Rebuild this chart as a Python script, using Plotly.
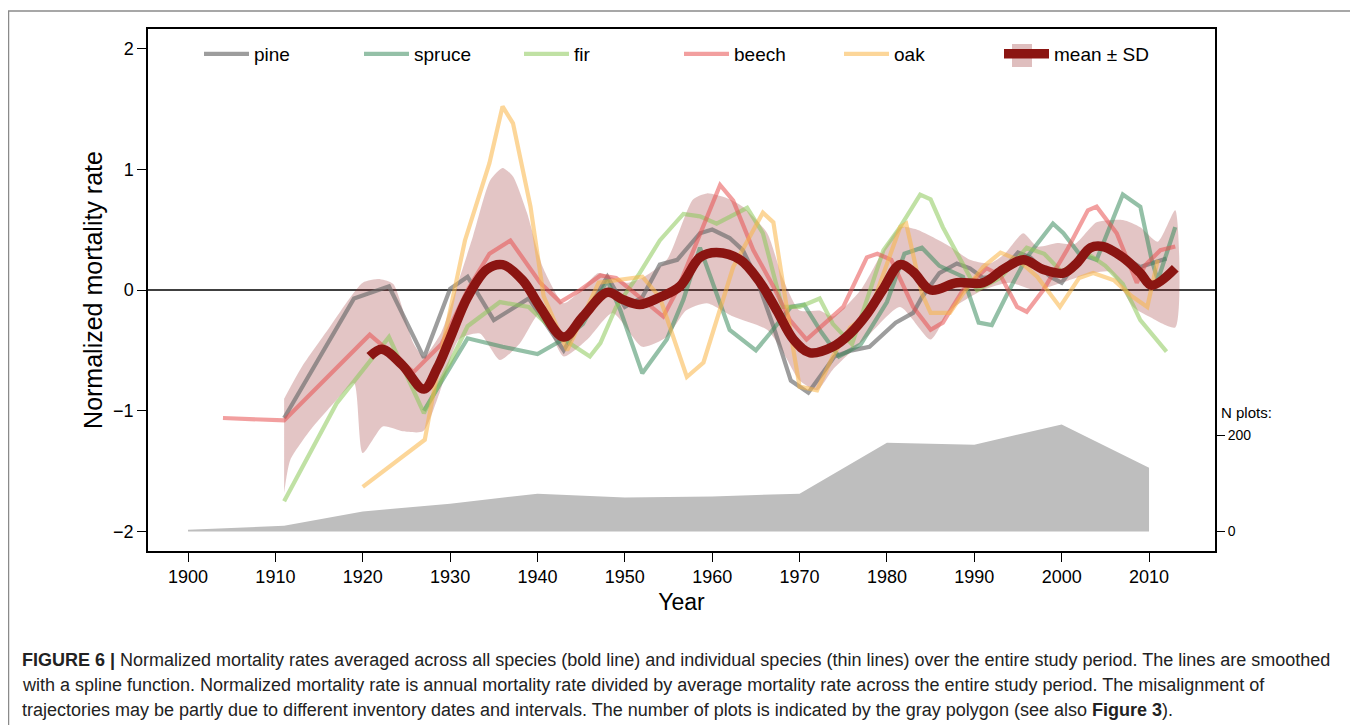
import plotly.graph_objects as go

# ---------------- data ----------------
PINE_X = [1911, 1919, 1923, 1927, 1930, 1932, 1935, 1939, 1943, 1948, 1950, 1952, 1954, 1956, 1958.6, 1960, 1962,
          1963.5, 1965, 1967, 1969, 1971, 1974, 1976, 1978, 1981, 1983, 1984, 1986, 1988, 1989.5, 1991, 1992.6,
          1995, 1996.4, 1998.7, 2000, 2002.5, 2004.7, 2007.5, 2009, 2012]
PINE_Y = [-1.06, -0.07, 0.03, -0.56, 0.01, 0.11, -0.25, -0.07, -0.50, 0.11, -0.14, -0.06, 0.21, 0.25, 0.47, 0.50, 0.43,
          0.33, 0.11, -0.30, -0.75, -0.85, -0.55, -0.50, -0.47, -0.27, -0.19, -0.06, 0.14, 0.22, 0.18, 0.10, 0.11,
          0.31, 0.27, 0.11, 0.06, 0.31, 0.37, 0.25, 0.19, 0.26]

SPRUCE_X = [1927, 1932, 1936, 1940, 1943.4, 1945.2, 1948, 1949.5, 1952, 1954.8, 1956.7, 1958.6, 1962, 1965, 1966.6,
            1969, 1970.5, 1972.5, 1974.5, 1977, 1980, 1982, 1984, 1986, 1988.7, 1990.5, 1992, 1994, 1996, 1999,
            2000.2, 2002, 2004, 2007, 2009, 2010.3, 2011, 2013]
SPRUCE_Y = [-1.0, -0.4, -0.47, -0.53, -0.39, -0.28, 0.08, -0.17, -0.69, -0.41, -0.08, 0.35, -0.33, -0.50, -0.36,
            -0.14, -0.12, -0.35, -0.55, -0.45, -0.1, 0.3, 0.35, 0.2, 0.11, -0.27, -0.29, 0.0, 0.27, 0.55,
            0.47, 0.3, 0.25, 0.79, 0.69, 0.25, 0.08, 0.52]

FIR_X = [1911, 1917, 1923, 1927, 1930, 1932, 1935.7, 1939, 1942.6, 1946, 1947.2, 1949, 1951.7, 1954, 1956.7, 1958.6,
         1960.5, 1964, 1965.8, 1968, 1970, 1972.3, 1973.8, 1976, 1979.6, 1981.5, 1983.8, 1985, 1986.4, 1988.4,
         1990.3, 1993, 1996, 1998, 2000, 2003, 2005, 2007, 2009, 2012]
FIR_Y = [-1.75, -0.94, -0.39, -1.02, -0.6, -0.3, -0.1, -0.14, -0.39, -0.55, -0.44, -0.14, 0.14, 0.41, 0.63, 0.61,
         0.55, 0.68, 0.47, -0.14, -0.14, -0.07, -0.28, -0.45, 0.33, 0.52, 0.79, 0.75, 0.52, 0.25,
         0.0, 0.1, 0.35, 0.3, 0.15, 0.3, 0.2, 0.05, -0.25, -0.51]

BEECH_X = [1904, 1911, 1920.8, 1925.8, 1929, 1932, 1934.5, 1936.9, 1940.3, 1942.6, 1944.9, 1947.2, 1949, 1951.7,
           1954.4, 1956, 1958.6, 1960.9, 1962.4, 1964.7, 1967, 1968.9, 1970.8, 1972.3, 1975, 1977.7, 1978.9,
           1980.5, 1983, 1985, 1986.4, 1988.7, 1991.4, 1993, 1994.9, 1996, 1997.9, 2000.6, 2003, 2004, 2006.3,
           2008.6, 2009.5, 2011.3, 2013]
BEECH_Y = [-1.06, -1.08, -0.37, -0.68, -0.45, 0.0, 0.3, 0.41, 0.06, -0.1, 0.0, 0.12, 0.1, -0.06,
           -0.22, 0.0, 0.47, 0.87, 0.74, 0.33, 0.03, -0.25, -0.41, -0.31, -0.14, 0.27, 0.3,
           0.25, -0.14, -0.33, -0.27, 0.0, 0.18, 0.12, -0.14, -0.18, 0.0, 0.33, 0.66, 0.69, 0.47,
           0.06, 0.2, 0.33, 0.36]

OAK_X = [1920, 1927.1, 1928.8, 1931.7, 1934.5, 1936, 1937.2, 1939.2, 1940.7, 1943.4, 1947, 1952, 1954, 1957.1,
         1959, 1962.4, 1965.8, 1967, 1969.3, 1970, 1972, 1973.8, 1975.8, 1978, 1981.5, 1982.2, 1984, 1985,
         1987.2, 1988.7, 1991, 1993, 1995, 1997.2, 1999.8, 2002, 2003.6, 2006, 2008, 2009.8, 2011]
OAK_Y = [-1.63, -1.24, -0.58, 0.41, 1.05, 1.52, 1.38, 0.69, -0.05, -0.5, 0.06, 0.11, -0.06, -0.72,
         -0.6, 0.19, 0.64, 0.56, -0.5, -0.8, -0.83, -0.55, -0.31, -0.19, 0.52, 0.55, -0.03, -0.19,
         -0.19, -0.03, 0.19, 0.31, 0.25, 0.11, -0.14, 0.1, 0.14, 0.08, -0.05, -0.14, 0.25]

MEAN_X = [1920.8, 1922.2, 1924.5, 1927, 1928.5, 1930, 1932, 1934.2, 1936, 1938.3, 1940.3, 1943, 1945.2, 1948,
          1949.8, 1951.7, 1954, 1956.3, 1958.6, 1960.5, 1963.2, 1965.5, 1967.4, 1969.3, 1971.2, 1973.8, 1975.8,
          1977.7, 1979.5, 1981.5, 1983, 1985, 1988, 1991, 1993.3, 1995.6, 1997.9, 2000.2, 2001.7, 2003.3,
          2004.7, 2007, 2009, 2010.3, 2013]
MEAN_Y = [-0.55, -0.49, -0.62, -0.82, -0.65, -0.4, -0.06, 0.17, 0.21, 0.08, -0.14, -0.39, -0.22, -0.02,
          -0.08, -0.12, -0.06, 0.03, 0.27, 0.31, 0.25, 0.06, -0.17, -0.41, -0.52, -0.47, -0.36,
          -0.2, 0.0, 0.21, 0.15, 0.0, 0.06, 0.06, 0.17, 0.25, 0.17, 0.14, 0.22, 0.35,
          0.36, 0.27, 0.14, 0.04, 0.18]

SD_UP_X = [1911, 1913, 1916, 1920, 1922, 1923.5, 1925.8, 1927, 1929, 1931, 1932.6, 1934.6, 1936, 1937.2, 1938.8,
           1940.6, 1943, 1945, 1947, 1950.2, 1952, 1954.8, 1957.8, 1959.4, 1961.7, 1963.5, 1966.3, 1968, 1970,
           1972.3, 1973.8, 1977, 1979.6, 1981.5, 1983.4, 1987.2, 1989.5, 1991.8, 1993.5, 1995.6, 1997.2, 1999.5,
           2001.5, 2004, 2007, 2009, 2011, 2013]
SD_UP = [-0.9, -0.64, -0.33, 0.06, 0.09, 0.05, -0.44, -0.55, -0.35, 0.08, 0.44, 0.91, 1.01, 0.94, 0.64,
         0.19, -0.11, 0.0, 0.14, 0.06, 0.1, 0.25, 0.75, 0.8, 0.76, 0.69, 0.47, 0.11, -0.17,
         -0.17, -0.22, 0.0, 0.33, 0.52, 0.5, 0.36, 0.25, 0.22, 0.3, 0.47, 0.36, 0.39,
         0.38, 0.56, 0.58, 0.52, 0.4, 0.66]

SD_LO_X = [1911, 1911.7, 1914, 1917, 1919, 1920, 1922.3, 1924.6, 1926.9, 1928.8, 1931, 1933.4, 1935.7, 1938,
           1940.3, 1943, 1945.7, 1948.6, 1952, 1954.8, 1957, 1959.4, 1962.4, 1966.3, 1968, 1970, 1972, 1973.8,
           1977.7, 1981.5, 1985, 1987.2, 1991, 1994, 1997, 2000, 2002.5, 2005.5, 2008.2, 2010, 2013]
SD_LO = [-1.68, -1.41, -1.16, -0.91, -0.77, -1.35, -1.13, -1.17, -1.17, -0.85, -0.41, -0.36, -0.58, -0.44,
         -0.19, -0.55, -0.41, -0.19, -0.47, -0.39, -0.17, -0.11, -0.22, -0.33, -0.5, -0.75, -0.83, -0.66,
         -0.39, -0.14, -0.41, -0.17, 0.0, 0.06, 0.0, 0.06, 0.12, 0.15, -0.14, -0.22, -0.31]

N_YEARS = [1900, 1911, 1920, 1930, 1940, 1950, 1960, 1970, 1980, 1990, 2000, 2010]
N_PLOTS = [4, 12, 42, 58, 79, 71, 73, 79, 185, 181, 223, 133]

X_TICKS = [1900, 1910, 1920, 1930, 1940, 1950, 1960, 1970, 1980, 1990, 2000, 2010]
Y_TICKS = [-2, -1, 0, 1, 2]
N_TICKS = [0, 200]

SPECIES = [
    ("pine", PINE_X, PINE_Y, "rgba(110,110,110,0.68)"),
    ("spruce", SPRUCE_X, SPRUCE_Y, "rgba(60,140,95,0.55)"),
    ("fir", FIR_X, FIR_Y, "rgba(140,200,90,0.55)"),
    ("beech", BEECH_X, BEECH_Y, "rgba(232,80,80,0.55)"),
    ("oak", OAK_X, OAK_Y, "rgba(250,180,70,0.55)"),
]

FONT = "Liberation Sans, Arial, Helvetica, sans-serif"

fig = go.Figure()

# number of plots polygon (primary y axis = N plots, right side)
fig.add_trace(go.Scatter(x=N_YEARS, y=N_PLOTS, yaxis="y", mode="lines", fill="tozeroy",
                         line=dict(width=0, color="#bebebe"), fillcolor="#bebebe",
                         showlegend=False, hoverinfo="skip"))

# SD ribbon
fig.add_trace(go.Scatter(x=SD_UP_X + SD_LO_X[::-1], y=SD_UP + SD_LO[::-1], yaxis="y2",
                         mode="lines", fill="toself", line=dict(width=0, shape="spline", smoothing=0.6),
                         fillcolor="rgba(150,40,40,0.27)", showlegend=False, hoverinfo="skip"))

for name, xs, ys, col in SPECIES:
    fig.add_trace(go.Scatter(x=xs, y=ys, yaxis="y2", mode="lines", name=name,
                             line=dict(color=col, width=4.2)))

fig.add_trace(go.Scatter(x=MEAN_X, y=MEAN_Y, yaxis="y2", mode="lines", name="mean \u00b1 SD",
                         line=dict(color="#8b1512", width=9.5, shape="spline", smoothing=1.0)))

# The page body has an 8px default margin: the figure is sized so that it fills the window exactly.
OFF = 8
W, H = 1358 - OFF, 725 - OFF
PL, PR, PT, PB = 148, 1215, 29, 551          # absolute window pixels of the plot box
L, T = PL - OFF, PT - OFF
R = W - (PR - OFF)
B = H - (PB - OFF)
PW, PH = PR - PL, PB - PT

def px_x(p):
    return (p - PL) / PW

def px_y(p):
    return (PB - p) / PH

fig.update_layout(
    width=W, height=H,
    margin=dict(l=L, r=R, t=T, b=B, autoexpand=False),
    paper_bgcolor="white", plot_bgcolor="white",
    font=dict(family=FONT, color="black"),
    xaxis=dict(range=[1895.42, 2017.55], tickvals=X_TICKS, ticks="outside", ticklen=9, tickwidth=1.2,
               tickcolor="black", showline=True, mirror=True, linecolor="black", linewidth=1.5,
               showgrid=False, zeroline=False, tickfont=dict(size=18),
               title=dict(text="Year", font=dict(size=23), standoff=8)),
    yaxis=dict(side="right", range=[-40.5, 1046.9], tickvals=N_TICKS, ticks="outside", ticklen=9,
               tickwidth=1.2, tickcolor="black", showline=False, showgrid=False, zeroline=False,
               tickfont=dict(size=14)),
    yaxis2=dict(overlaying="y", side="left", range=[-2.161, 2.161], tickvals=Y_TICKS, ticks="outside",
                ticklen=9, tickwidth=1.2, tickcolor="black", showline=True, mirror=True, linecolor="black",
                linewidth=1.5, showgrid=False, zeroline=False, tickfont=dict(size=18),
                title=dict(text="Normalized mortality rate", font=dict(size=25), standoff=3)),
    legend=dict(orientation="h", x=px_x(199), y=px_y(35), xanchor="left", yanchor="top",
                bgcolor="rgba(0,0,0,0)", font=dict(size=19), entrywidth=100, entrywidthmode="pixels",
                itemwidth=45, tracegroupgap=0),
    showlegend=True,
)

# zero line
fig.add_shape(type="line", xref="paper", x0=0, x1=1, yref="y2", y0=0, y1=0,
              line=dict(color="black", width=1.4), layer="below")

# outer frame
fig.add_shape(type="rect", xref="paper", yref="paper", x0=px_x(8.5), x1=px_x(1352), y0=px_y(760), y1=px_y(11),
              line=dict(color="#8a8a8a", width=1.5), fillcolor="rgba(0,0,0,0)", layer="below")

# SD swatch behind mean legend line
fig.add_shape(type="rect", xref="paper", yref="paper", x0=px_x(1012), x1=px_x(1032), y0=px_y(67), y1=px_y(44),
              line=dict(width=0), fillcolor="rgba(150,40,40,0.3)", layer="above")

fig.add_annotation(text="N plots:", xref="paper", yref="paper", x=px_x(1219), y=px_y(412),
                   xanchor="left", yanchor="middle", showarrow=False, font=dict(size=15))

CAPTION = [
    "<b>FIGURE 6 |</b> Normalized mortality rates averaged across all species (bold line) and individual species (thin lines) over the entire study period. The lines are smoothed",
    "with a spline function. Normalized mortality rate is annual mortality rate divided by average mortality rate across the entire study period. The misalignment of",
    "trajectories may be partly due to different inventory dates and intervals. The number of plots is indicated by the gray polygon (see also <b>Figure 3</b>).",
]
for i, line in enumerate(CAPTION):
    fig.add_annotation(text=line, xref="paper", yref="paper", x=px_x(20), y=px_y(660 + 25 * i),
                       xanchor="left", yanchor="middle", showarrow=False,
                       font=dict(size=18, color="#222222"))

fig.write_html("out.html")
